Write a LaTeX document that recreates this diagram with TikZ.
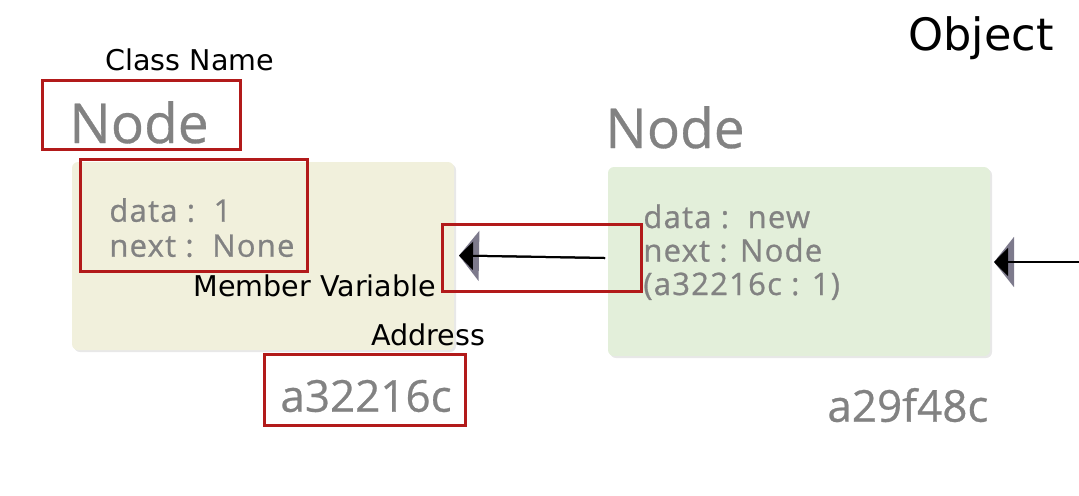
\documentclass[tikz,border=0pt]{standalone}
\usepackage{fontspec}
\setmainfont{DejaVu Sans}
\newfontfamily\grayfont[FakeBold=0.6]{Open Sans}
\newfontfamily\grayfontsp[LetterSpace=4,FakeBold=0.8]{Open Sans}
\usetikzlibrary{arrows.meta}
\definecolor{redbox}{RGB}{178,26,26}
\definecolor{graytext}{RGB}{130,130,130}
\definecolor{beigefill}{RGB}{241,240,220}
\definecolor{greenfill}{RGB}{227,239,218}
\definecolor{tipgray}{RGB}{125,122,140}
\definecolor{shadowgray}{RGB}{232,232,232}
\tikzset{
  objbox/.style={rounded corners=3pt, draw=none, inner sep=0, outer sep=0, anchor=north west},
  redrect/.style={draw=redbox, line width=1.5pt, inner sep=0, outer sep=0, anchor=north west},
  blacklabel/.style={font=\fontsize{14.3}{17}\selectfont, text=black, inner sep=0, anchor=base west},
  classword/.style={font=\grayfont\fontsize{27.5}{30}\selectfont, text=graytext, inner sep=0, anchor=base west},
  memberline/.style={font=\grayfontsp\fontsize{15.5}{18}\selectfont, text=graytext, inner sep=0, anchor=base west},
  addrword/.style={font=\grayfont\fontsize{22}{26}\selectfont, text=graytext, inner sep=0, anchor=base west},
  outerlink/.style={draw=black, line width=1pt, -{Triangle[length=10pt,width=25pt,color=tipgray]}},
  innerlink/.style={draw=black, line width=1pt, -{Triangle[length=7pt,width=14pt,color=black]}}
}
\begin{document}
\begin{tikzpicture}[x=0.5pt,y=-0.5pt]
\useasboundingbox (0,0) rectangle (1079,495);
% object boxes (with faint shadow)
\node[objbox, fill=shadowgray, minimum width=191pt, minimum height=94pt] (sh1) at (74,164) {};
\node[objbox, fill=beigefill, minimum width=191pt, minimum height=94pt] (box1) at (72,162) {};
\node[objbox, fill=shadowgray, minimum width=191pt, minimum height=94.5pt] (sh2) at (610,169) {};
\node[objbox, fill=greenfill, minimum width=191pt, minimum height=94.5pt] (box2) at (608,167) {};
% class names
\node[classword] (cls1) at (69,143) {Node};
\node[classword] (cls2) at (605,148) {Node};
% member variables
\node[memberline] (m1a) at (109,221.7) {data :\ \ 1};
\node[memberline] (m1b) at (109,256.7) {next :\ \ None};
\node[memberline] (m2a) at (643,228) {data :\ \ new};
\node[memberline] (m2b) at (643,261.5) {next : Node};
\node[memberline] (m2c) at (643,295) {(a32216c : 1)};
% addresses
\node[addrword] (ad1) at (280,411.7) {a32216c};
\node[addrword] (ad2) at (827,421.7) {a29f48c};
% black labels
\node[blacklabel] (lblclass) at (105,70) {Class Name};
\node[blacklabel] (lblmember) at (193,296.5) {Member Variable};
\node[blacklabel] (lbladdr) at (371,345) {Address};
\node[blacklabel, font=\fontsize{22.3}{26}\selectfont] (lblobj) at (908,50) {Object};
% links
\coordinate (l1s) at (605,258);
\coordinate (l1t) at (459,255.5);
\coordinate (l2s) at (1079,262);
\coordinate (l2t) at (994,262);
\draw[outerlink] (l1s) -- (l1t);
\draw[innerlink] (l1s) -- (l1t);
\draw[outerlink] (l2s) -- (l2t);
\draw[innerlink] (l2s) -- (l2t);
% red annotation rectangles
\node[redrect, minimum width=99.2pt, minimum height=34.5pt] (rclass) at (42.2,80.5) {};
\node[redrect, minimum width=113.2pt, minimum height=55.7pt] (rmember) at (80.8,159.8) {};
\node[redrect, minimum width=99.6pt, minimum height=33.8pt] (rlink) at (442.5,224.2) {};
\node[redrect, minimum width=100.2pt, minimum height=35.2pt] (raddr) at (264.8,354.8) {};
\end{tikzpicture}
\end{document}
